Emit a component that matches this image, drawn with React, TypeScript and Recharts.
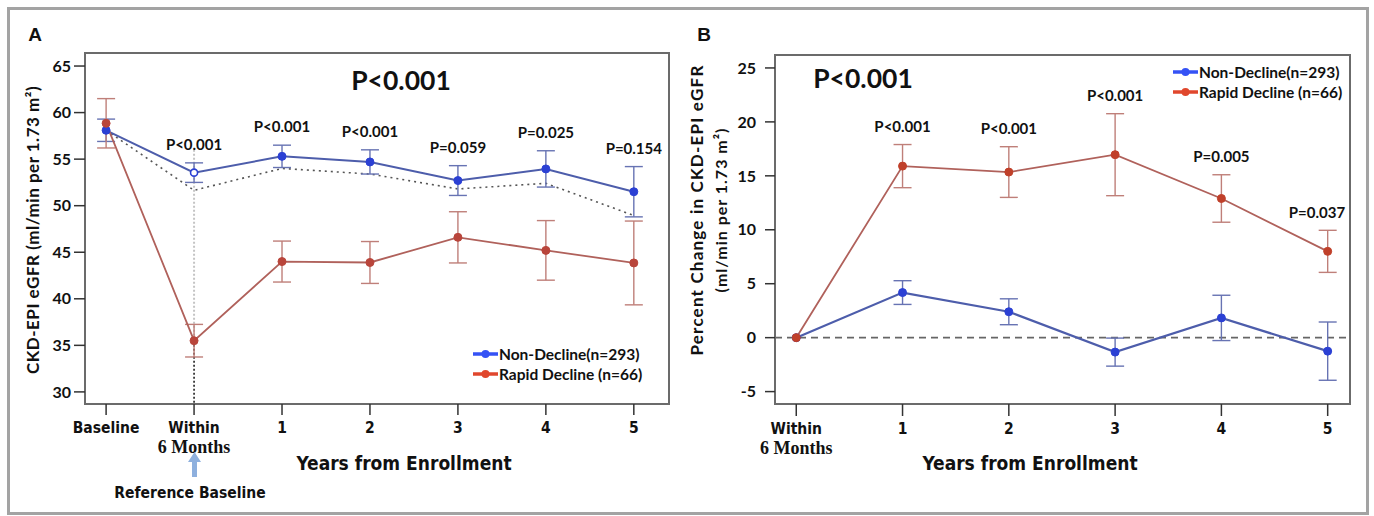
import React from 'react';
import { LineChart, Line, XAxis, YAxis, ErrorBar, ReferenceLine, ReferenceArea, ReferenceDot } from 'recharts';

// ---- Panel A: eGFR over time ----
const categoriesA = ['Baseline', 'Within|6 Months', '1', '2', '3', '4', '5'];
const nonDeclineA = [58.1, 53.55, 55.3, 54.7, 52.7, 53.95, 51.5];
const nonDeclineErrA = [1.2, 1.05, 1.2, 1.3, 1.6, 1.95, 2.7];
const rapidA = [58.85, 35.5, 44.0, 43.9, 46.6, 45.2, 43.85];
const rapidErrA = [2.65, 1.75, 2.2, 2.25, 2.75, 3.2, 4.5];
const referenceA = [58.1, 51.65, 54.0, 53.4, 51.8, 52.4, 48.95];
const pValuesA = ['', 'P<0.001', 'P<0.001', 'P<0.001', 'P=0.059', 'P=0.025', 'P=0.154'];
const yTicksA = [30, 35, 40, 45, 50, 55, 60, 65];

// ---- Panel B: percent change from 6 months ----
const categoriesB = ['Within|6 Months', '1', '2', '3', '4', '5'];
const nonDeclineB = [0, 4.18, 2.4, -1.34, 1.83, -1.25];
const nonDeclineErrB = [null, 1.1, 1.2, 1.3, 2.1, 2.7];
const rapidB = [0, 15.9, 15.35, 16.96, 12.9, 8.0];
const rapidErrB = [null, 2.0, 2.35, 3.8, 2.2, 1.95];
const pValuesB = ['', 'P<0.001', 'P<0.001', 'P<0.001', 'P=0.005', 'P=0.037'];
const yTicksB = [-5, 0, 5, 10, 15, 20, 25];

const seriesNames = ['Non-Decline(n=293)', 'Rapid Decline (n=66)'];

const SANS = "Lato, 'Open Sans', sans-serif";
const COND = "'DejaVu Sans Condensed', 'DejaVu Sans', sans-serif";
const SERIF = "'Liberation Serif', 'Times New Roman', serif";

const BLUE_LINE = '#4d5dab';
const BLUE_DOT = '#2b40d4';
const BLUE_ERR = '#6773b3';
const RED_LINE = '#b0615b';
const RED_DOT = '#b9453b';
const RED_ERR = '#bf7f79';
const LEG_BLUE = '#3552f5';
const LEG_RED = '#e0472d';

const rowsA = categoriesA.map((c, i) => ({
  x: i,
  nd: nonDeclineA[i],
  ndErr: nonDeclineErrA[i],
  rd: rapidA[i],
  rdErr: rapidErrA[i],
  ref: referenceA[i],
}));

const rowsB = categoriesB.map((c, i) => ({
  x: i,
  nd: nonDeclineB[i],
  ndErr: nonDeclineErrB[i],
  rd: rapidB[i],
  rdErr: rapidErrB[i],
}));

const XTick = (props: any) => {
  const { x, y, payload, cats } = props;
  const label = cats[payload.value];
  if (label == null) return null;
  const [l1, l2] = label.split('|');
  return (
    <g>
      <text x={x} y={y + 18} textAnchor="middle" fontFamily={COND} fontWeight="bold" fontSize={15.5} fill="#111">
        {l1}
      </text>
      {l2 && (
        <text x={x} y={y + 38} textAnchor="middle" fontFamily={SERIF} fontWeight="bold" fontSize={18} fill="#111">
          {l2}
        </text>
      )}
    </g>
  );
};

const PLabel = (props: any) => {
  const { cx, cy, text, maxX } = props;
  const x = Math.min(cx, maxX);
  return (
    <text x={x} y={cy - 18} dy="0.35em" textAnchor="middle" fontFamily={SANS} fontWeight="bold" fontSize={15} fill="#111">
      {text}
    </text>
  );
};

const yTickStyle = { fontSize: 16, fontWeight: 'bold', fill: '#111', fontFamily: SANS };

const dot = (color: string, hollowIndex = -1) => (p: any) => (
  <circle
    key={p.index}
    cx={p.cx}
    cy={p.cy}
    r={p.index === hollowIndex ? 3.5 : 4}
    fill={p.index === hollowIndex ? '#fff' : color}
    stroke={color}
    strokeWidth={p.index === hollowIndex ? 1.6 : 1}
  />
);

const domainXA = [-0.24, 6.4];
const domainYA = [28.7, 66.4];
const domainXB = [-0.2, 5.21];
const domainYB = [-6.15, 26.2];

const PanelA = () => (
  <LineChart width={690} height={516} data={rowsA} margin={{ top: 53, right: 21, bottom: 52, left: 25 }}>
    <ReferenceArea x1={domainXA[0]} x2={domainXA[1]} y1={domainYA[0]} y2={domainYA[1]} fill="none" stroke="#6b6b6b" strokeWidth={2} ifOverflow="visible" />
    <XAxis
      type="number"
      dataKey="x"
      domain={domainXA}
      ticks={[0, 1, 2, 3, 4, 5, 6]}
      allowDataOverflow
      interval={0}
      height={60}
      tickSize={11}
      tickMargin={0}
      axisLine={{ stroke: '#6b6b6b', strokeWidth: 2 }}
      tickLine={{ stroke: '#333', strokeWidth: 1.5 }}
      tick={(p: any) => <XTick {...p} cats={categoriesA} />}
    />
    <YAxis
      type="number"
      domain={domainYA}
      ticks={yTicksA}
      allowDataOverflow
      width={60}
      tickSize={11}
      tickMargin={3}
      axisLine={{ stroke: '#6b6b6b', strokeWidth: 2 }}
      tickLine={{ stroke: '#333', strokeWidth: 1.5 }}
      tick={yTickStyle}
    />
    <ReferenceLine segment={[{ x: 1, y: 56.0 }, { x: 1, y: rapidA[1] }]} stroke="#c4c4c4" strokeDasharray="2 2" strokeWidth={2} ifOverflow="visible" />
    <ReferenceLine segment={[{ x: 1, y: rapidA[1] }, { x: 1, y: domainYA[0] }]} stroke="#111" strokeDasharray="2 2" strokeWidth={1.5} ifOverflow="visible" />
    <Line dataKey="ref" stroke="#555" strokeWidth={1.6} strokeDasharray="2 4" dot={false} isAnimationActive={false} />
    <Line dataKey="nd" stroke={BLUE_LINE} strokeWidth={2} dot={dot(BLUE_DOT, 1)} isAnimationActive={false}>
      <ErrorBar dataKey="ndErr" width={9} stroke={BLUE_ERR} strokeWidth={1.4} direction="y" />
    </Line>
    <Line dataKey="rd" stroke={RED_LINE} strokeWidth={1.8} dot={dot(RED_DOT)} isAnimationActive={false}>
      <ErrorBar dataKey="rdErr" width={9} stroke={RED_ERR} strokeWidth={1.4} direction="y" />
    </Line>
    {pValuesA.map((p, i) =>
      p ? (
        <ReferenceDot
          key={i}
          x={i}
          y={Math.max(nonDeclineA[i] + nonDeclineErrA[i], rapidA[i] + rapidErrA[i])}
          r={0}
          ifOverflow="visible"
          shape={(s: any) => <PLabel {...s} text={p} maxX={669 - 34} />}
        />
      ) : null
    )}
  </LineChart>
);

const PanelB = () => (
  <LineChart width={684} height={516} data={rowsB} margin={{ top: 55, right: 24, bottom: 52, left: 25 }}>
    <ReferenceArea x1={domainXB[0]} x2={domainXB[1]} y1={domainYB[0]} y2={domainYB[1]} fill="none" stroke="#6b6b6b" strokeWidth={2} ifOverflow="visible" />
    <XAxis
      type="number"
      dataKey="x"
      domain={domainXB}
      ticks={[0, 1, 2, 3, 4, 5]}
      allowDataOverflow
      interval={0}
      height={60}
      tickSize={12}
      tickMargin={0}
      axisLine={{ stroke: '#6b6b6b', strokeWidth: 2 }}
      tickLine={{ stroke: '#333', strokeWidth: 1.5 }}
      tick={(p: any) => <XTick {...p} cats={categoriesB} />}
    />
    <YAxis
      type="number"
      domain={domainYB}
      ticks={yTicksB}
      allowDataOverflow
      width={60}
      tickSize={10}
      tickMargin={9}
      axisLine={{ stroke: '#6b6b6b', strokeWidth: 2 }}
      tickLine={{ stroke: '#333', strokeWidth: 1.5 }}
      tick={yTickStyle}
    />
    <ReferenceLine y={0} stroke="#666" strokeDasharray="7 5" strokeWidth={1.8} />
    <Line dataKey="nd" stroke={BLUE_LINE} strokeWidth={2.2} dot={dot(BLUE_DOT)} isAnimationActive={false}>
      <ErrorBar dataKey="ndErr" width={9} stroke={BLUE_ERR} strokeWidth={1.4} direction="y" />
    </Line>
    <Line dataKey="rd" stroke={RED_LINE} strokeWidth={1.8} dot={dot('#c0402a')} isAnimationActive={false}>
      <ErrorBar dataKey="rdErr" width={9} stroke={RED_ERR} strokeWidth={1.4} direction="y" />
    </Line>
    {pValuesB.map((p, i) =>
      p ? (
        <ReferenceDot
          key={i}
          x={i}
          y={Math.max(nonDeclineB[i] + (nonDeclineErrB[i] ?? 0), rapidB[i] + (rapidErrB[i] ?? 0))}
          r={0}
          ifOverflow="visible"
          shape={(s: any) => <PLabel {...s} text={p} maxX={660 - 33} />}
        />
      ) : null
    )}
  </LineChart>
);

const LegendBox = ({ x, y }: { x: number; y: number }) => (
  <g>
    {[LEG_BLUE, LEG_RED].map((c, i) => (
      <g key={i}>
        <line x1={x} x2={x + 25} y1={y + i * 20} y2={y + i * 20} stroke={c} strokeWidth={3.5} />
        <circle cx={x + 12.5} cy={y + i * 20} r={4} fill={c} />
        <text x={x + 26} y={y + i * 20} dy="0.36em" fontFamily={SANS} fontWeight="bold" fontSize={15.5} fill="#111">
          {seriesNames[i]}
        </text>
      </g>
    ))}
  </g>
);

export default function App() {
  return (
    <div style={{ position: 'absolute', left: 0, top: 0, width: 1374, height: 516, background: '#fff', fontFamily: SANS }}>
      <div style={{ position: 'absolute', left: 0, top: 0 }}>
        <PanelA />
      </div>
      <div style={{ position: 'absolute', left: 690, top: 0 }}>
        <PanelB />
      </div>
      <svg width={1374} height={516} style={{ position: 'absolute', left: 0, top: 0, pointerEvents: 'none' }}>
        <rect x={8.5} y={8.5} width={1359} height={505} fill="none" stroke="#a3a3a3" strokeWidth={3} />
        <text x={35} y={34} dy="0.35em" textAnchor="middle" fontFamily="'Liberation Sans', Arial, sans-serif" fontWeight="bold" fontSize={19} fill="#111">A</text>
        <text x={704} y={34} dy="0.35em" textAnchor="middle" fontFamily="'Liberation Sans', Arial, sans-serif" fontWeight="bold" fontSize={19} fill="#111">B</text>
        <text x={401} y={81} dy="0.35em" textAnchor="middle" fontFamily={SANS} fontWeight="bold" fontSize={26.5} fill="#111">P&lt;0.001</text>
        <text x={863} y={79} dy="0.35em" textAnchor="middle" fontFamily={SANS} fontWeight="bold" fontSize={26.5} fill="#111">P&lt;0.001</text>
        <text transform="translate(33,230) rotate(-90)" dy="0.35em" textAnchor="middle" fontFamily={SANS} fontWeight="bold" fontSize={17} letterSpacing={0.5} fill="#111">
          CKD-EPI eGFR (ml/min per 1.73 m²)
        </text>
        <text transform="translate(697,210) rotate(-90)" dy="0.35em" textAnchor="middle" fontFamily={SANS} fontWeight="bold" fontSize={17} letterSpacing={1.2} fill="#111">
          Percent Change in CKD-EPI eGFR
        </text>
        <text transform="translate(721,210) rotate(-90)" dy="0.35em" textAnchor="middle" fontFamily={SANS} fontWeight="bold" fontSize={16} letterSpacing={1} fill="#111">
          (ml/min per 1.73 m²)
        </text>
        <text x={404} y={463} dy="0.35em" textAnchor="middle" fontFamily={COND} fontWeight="bold" fontSize={19} fill="#111">Years from Enrollment</text>
        <text x={1030} y={463} dy="0.35em" textAnchor="middle" fontFamily={COND} fontWeight="bold" fontSize={19} fill="#111">Years from Enrollment</text>
        <path d="M194.5 452 L201 462 L197 462 L197 477 L192 477 L192 462 L188 462 Z" fill="#8eb0de" />
        <text x={190} y={493} dy="0.35em" textAnchor="middle" fontFamily={COND} fontWeight="bold" fontSize={15.5} fill="#111">Reference Baseline</text>
        <LegendBox x={473} y={354} />
        <LegendBox x={1173} y={72} />
      </svg>
    </div>
  );
}
